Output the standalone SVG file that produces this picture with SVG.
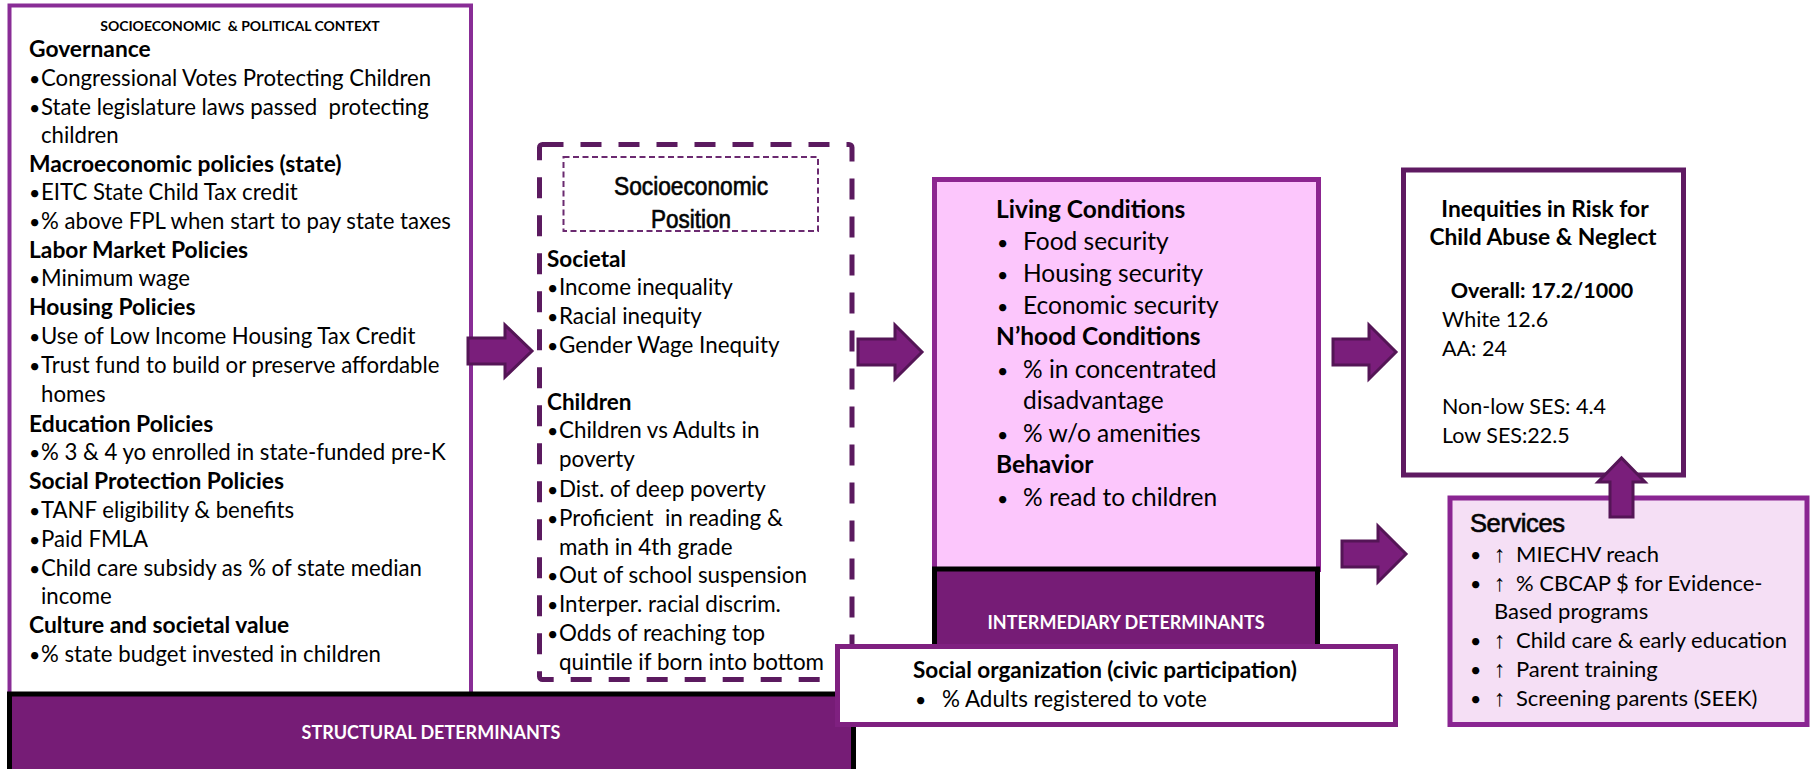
<svg xmlns="http://www.w3.org/2000/svg" width="1812" height="769" viewBox="0 0 1812 769">
<style>
text{font-family:Lato,"Liberation Sans",sans-serif;fill:#000}
.t{font-size:22.2px}
.b{font-size:22.8px;font-weight:bold}
.m{font-size:22.4px}
.mb{font-size:22.5px;font-weight:bold}
.p{font-size:24.5px}
.pb{font-size:24.5px;font-weight:bold}
.q{font-size:21.5px}
.s{font-size:22px}
.bar{font-size:18px;font-weight:bold;fill:#fff}
.arial{font-family:"Liberation Sans",Arial,sans-serif}
.pre{white-space:pre}
.bu{font-size:19.5px}
.up{font-family:"Liberation Sans","DejaVu Sans",sans-serif;font-size:23px}
.glow{stroke:#111;stroke-width:0.7}
.arr{fill:#7a1e7b;stroke:#541556;stroke-width:3;stroke-linejoin:miter}
</style>
<rect width="1812" height="769" fill="#fff"/>

<g id="structural-context">
<rect x="9.5" y="5.5" width="461.5" height="692" fill="#fff" stroke="#892d96" stroke-width="4"/>
<text x="240" y="31" text-anchor="middle" class="pre" style="font-size:14px;font-weight:bold">SOCIOECONOMIC  &amp; POLITICAL CONTEXT</text>
<text x="29" y="57" class="b">Governance</text>
<text x="29" y="86" class="t"><tspan class="bu">•</tspan><tspan x="41">Congressional Votes Protecting Children</tspan></text>
<text x="29" y="115" class="t pre"><tspan class="bu">•</tspan><tspan x="41">State legislature laws passed  protecting</tspan></text>
<text x="41" y="143" class="t">children</text>
<text x="29" y="172" class="b">Macroeconomic policies (state)</text>
<text x="29" y="200" class="t"><tspan class="bu">•</tspan><tspan x="41">EITC State Child Tax credit</tspan></text>
<text x="29" y="229" class="t"><tspan class="bu">•</tspan><tspan x="41">% above FPL when start to pay state taxes</tspan></text>
<text x="29" y="258" class="b">Labor Market Policies</text>
<text x="29" y="286" class="t"><tspan class="bu">•</tspan><tspan x="41">Minimum wage</tspan></text>
<text x="29" y="315" class="b">Housing Policies</text>
<text x="29" y="344" class="t"><tspan class="bu">•</tspan><tspan x="41">Use of Low Income Housing Tax Credit</tspan></text>
<text x="29" y="373" class="t"><tspan class="bu">•</tspan><tspan x="41">Trust fund to build or preserve affordable</tspan></text>
<text x="41" y="402" class="t">homes</text>
<text x="29" y="432" class="b">Education Policies</text>
<text x="29" y="460" class="t"><tspan class="bu">•</tspan><tspan x="41">% 3 &amp; 4 yo enrolled in state-funded pre-K</tspan></text>
<text x="29" y="489" class="b">Social Protection Policies</text>
<text x="29" y="518" class="t"><tspan class="bu">•</tspan><tspan x="41">TANF eligibility &amp; benefits</tspan></text>
<text x="29" y="547" class="t"><tspan class="bu">•</tspan><tspan x="41">Paid FMLA</tspan></text>
<text x="29" y="576" class="t"><tspan class="bu">•</tspan><tspan x="41">Child care subsidy as % of state median</tspan></text>
<text x="41" y="604" class="t">income</text>
<text x="29" y="633" class="b">Culture and societal value</text>
<text x="29" y="662" class="t"><tspan class="bu">•</tspan><tspan x="41">% state budget invested in children</tspan></text>
</g>

<g id="socioeconomic-position">
<rect x="539.5" y="144.5" width="312.5" height="535" fill="#fff" stroke="#5b1a5f" stroke-width="5" stroke-dasharray="21 17" rx="3"/>
<rect x="563.5" y="157" width="254.5" height="74" fill="none" stroke="#6b2a70" stroke-width="2" stroke-dasharray="6 3.5"/>
<text x="691" y="195" text-anchor="middle" class="arial glow" style="font-size:25px" textLength="154" lengthAdjust="spacingAndGlyphs">Socioeconomic</text>
<text x="691" y="228" text-anchor="middle" class="arial glow" style="font-size:25px" textLength="80" lengthAdjust="spacingAndGlyphs">Position</text>
<text x="547" y="267" class="mb">Societal</text>
<text x="547" y="295" class="m"><tspan class="bu">•</tspan><tspan x="559">Income inequality</tspan></text>
<text x="547" y="324" class="m"><tspan class="bu">•</tspan><tspan x="559">Racial inequity</tspan></text>
<text x="547" y="353" class="m"><tspan class="bu">•</tspan><tspan x="559">Gender Wage Inequity</tspan></text>
<text x="547" y="410" class="mb">Children</text>
<text x="547" y="438" class="m"><tspan class="bu">•</tspan><tspan x="559">Children vs Adults in</tspan></text>
<text x="559" y="467" class="m">poverty</text>
<text x="547" y="497" class="m"><tspan class="bu">•</tspan><tspan x="559">Dist. of deep poverty</tspan></text>
<text x="547" y="526" class="m pre"><tspan class="bu">•</tspan><tspan x="559">Proficient  in reading &amp;</tspan></text>
<text x="559" y="555" class="m">math in 4th grade</text>
<text x="547" y="583" class="m"><tspan class="bu">•</tspan><tspan x="559">Out of school suspension</tspan></text>
<text x="547" y="612" class="m"><tspan class="bu">•</tspan><tspan x="559">Interper. racial discrim.</tspan></text>
<text x="547" y="641" class="m"><tspan class="bu">•</tspan><tspan x="559">Odds of reaching top</tspan></text>
<text x="559" y="670" class="m">quintile if born into bottom</text>
</g>

<g id="structural-determinants">
<rect x="9.5" y="694" width="844" height="80" fill="#761c76" stroke="#000" stroke-width="5"/>
<text x="431" y="739" text-anchor="middle" class="bar">STRUCTURAL DETERMINANTS</text>
</g>

<g id="intermediary-determinants">
<rect x="934.5" y="179.5" width="384" height="390" fill="#fcc6fc" stroke="#8c2590" stroke-width="5"/>
<rect x="934.5" y="569" width="383" height="90" fill="#761c76" stroke="#000" stroke-width="5"/>
<text x="1126" y="629" text-anchor="middle" class="bar">INTERMEDIARY DETERMINANTS</text>
<text x="996" y="218" class="pb">Living Conditions</text>
<text x="997" y="250" class="p"><tspan class="bu">•</tspan><tspan x="1023">Food security</tspan></text>
<text x="997" y="282" class="p"><tspan class="bu">•</tspan><tspan x="1023">Housing security</tspan></text>
<text x="997" y="314" class="p"><tspan class="bu">•</tspan><tspan x="1023">Economic security</tspan></text>
<text x="996" y="345" class="pb">N’hood Conditions</text>
<text x="997" y="378" class="p"><tspan class="bu">•</tspan><tspan x="1023">% in concentrated</tspan></text>
<text x="1023" y="409" class="p">disadvantage</text>
<text x="997" y="442" class="p"><tspan class="bu">•</tspan><tspan x="1023">% w/o amenities</tspan></text>
<text x="996" y="473" class="pb">Behavior</text>
<text x="997" y="506" class="p"><tspan class="bu">•</tspan><tspan x="1023">% read to children</tspan></text>
</g>

<g id="social-organization">
<rect x="837.5" y="646.5" width="558" height="78" fill="#fff" stroke="#7f2080" stroke-width="5"/>
<text x="913" y="678" class="mb">Social organization (civic participation)</text>
<text x="915" y="707" class="m"><tspan class="bu">•</tspan><tspan x="942">% Adults registered to vote</tspan></text>
</g>

<g id="inequities">
<rect x="1403.5" y="170" width="280" height="305" fill="#fff" stroke="#5f1a62" stroke-width="5"/>
<text x="1545" y="217" text-anchor="middle" class="b">Inequities in Risk for</text>
<text x="1543" y="245" text-anchor="middle" class="b">Child Abuse &amp; Neglect</text>
<text x="1542" y="298" text-anchor="middle" class="q" style="font-weight:bold">Overall: 17.2/1000</text>
<text x="1442" y="327" class="q">White 12.6</text>
<text x="1442" y="356" class="q">AA: 24</text>
<text x="1442" y="414" class="q">Non-low SES: 4.4</text>
<text x="1442" y="443" class="q">Low SES:22.5</text>
</g>

<g id="services">
<rect x="1450" y="498" width="357" height="226.5" fill="#f5dff5" stroke="#8a2592" stroke-width="5"/>
<text x="1470" y="532" class="arial glow" style="font-size:25.5px;letter-spacing:-0.4px">Services</text>
<text x="1470" y="562" class="s"><tspan class="bu">•</tspan><tspan x="1494" class="up">↑</tspan><tspan x="1516">MIECHV reach</tspan></text>
<text x="1470" y="591" class="s"><tspan class="bu">•</tspan><tspan x="1494" class="up">↑</tspan><tspan x="1516">% CBCAP $ for Evidence-</tspan></text>
<text x="1494" y="619" class="s">Based programs</text>
<text x="1470" y="648" class="s"><tspan class="bu">•</tspan><tspan x="1494" class="up">↑</tspan><tspan x="1516">Child care &amp; early education</tspan></text>
<text x="1470" y="677" class="s"><tspan class="bu">•</tspan><tspan x="1494" class="up">↑</tspan><tspan x="1516">Parent training</tspan></text>
<text x="1470" y="706" class="s"><tspan class="bu">•</tspan><tspan x="1494" class="up">↑</tspan><tspan x="1516">Screening parents (SEEK)</tspan></text>
</g>

<g id="connectors">
<path class="arr" d="M468,338 H505 V325 L532,351 L505,377 V364 H468 Z"/>
<path class="arr" d="M858,339 H895 V325 L922,352 L895,379 V365 H858 Z"/>
<path class="arr" d="M1333,339 H1369 V325 L1396,352 L1369,379 V365 H1333 Z"/>
<path class="arr" d="M1342,541 H1378 V526 L1406,554 L1378,582 V567 H1342 Z"/>
<path class="arr" d="M1610,517 V482 H1598 L1621.5,458 L1645,482 H1633 V517 Z"/>
</g>
</svg>
